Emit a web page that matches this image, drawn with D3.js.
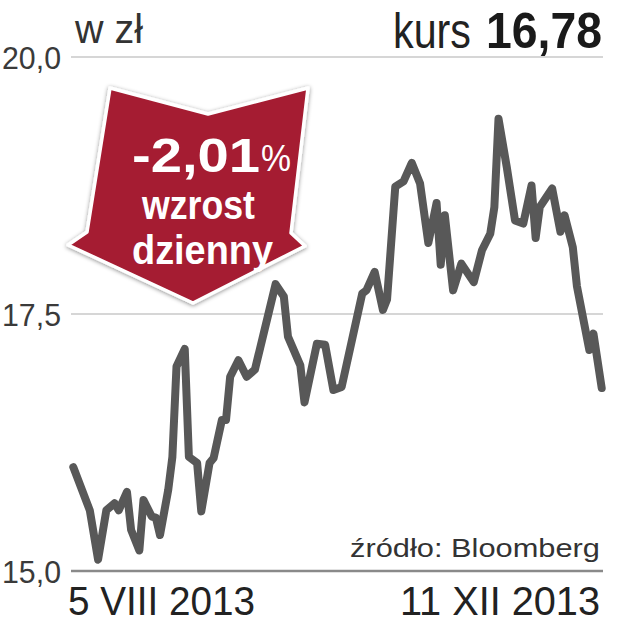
<!DOCTYPE html>
<html>
<head>
<meta charset="utf-8">
<script src="https://cdn.jsdelivr.net/npm/d3@7"></script>
<style>
  html, body { margin: 0; padding: 0; background: #fff; }
  svg { display: block; }
  text { font-family: "Liberation Sans", Arial, sans-serif; }
</style>
</head>
<body>
<svg id="chart" width="622" height="625"></svg>
<script>
// ---- data ----
const dates = [
  "2013-08-05","2013-08-09","2013-08-11","2013-08-13","2013-08-15","2013-08-16","2013-08-18","2013-08-19",
  "2013-08-21","2013-08-22","2013-08-24","2013-08-25","2013-08-26","2013-08-28","2013-08-29","2013-08-30",
  "2013-09-01","2013-09-02","2013-09-04","2013-09-05","2013-09-07","2013-09-08","2013-09-10","2013-09-11",
  "2013-09-12","2013-09-14","2013-09-16","2013-09-18","2013-09-23","2013-09-25","2013-09-26","2013-09-29",
  "2013-09-30","2013-10-03","2013-10-05","2013-10-07","2013-10-09","2013-10-14","2013-10-15","2013-10-17",
  "2013-10-19","2013-10-20","2013-10-22","2013-10-24","2013-10-26","2013-10-28","2013-10-30","2013-11-01",
  "2013-11-02","2013-11-03","2013-11-05","2013-11-07","2013-11-10","2013-11-12","2013-11-14","2013-11-15",
  "2013-11-16","2013-11-18","2013-11-20","2013-11-22","2013-11-24","2013-11-25","2013-11-26","2013-11-29",
  "2013-12-01","2013-12-02","2013-12-04","2013-12-05","2013-12-08","2013-12-09","2013-12-11"
];
const prices = [
  16.01,15.59,15.11,15.59,15.66,15.59,15.77,15.40,
  15.20,15.69,15.53,15.52,15.35,15.79,16.11,16.99,
  17.16,16.11,16.05,15.58,16.05,16.10,16.47,16.47,
  16.89,17.05,16.89,16.96,17.79,17.67,17.28,17.00,
  16.64,17.21,17.20,16.76,16.79,17.70,17.73,17.91,
  17.54,17.64,18.74,18.79,18.97,18.77,18.19,18.58,
  17.98,18.46,17.73,17.99,17.81,18.12,18.28,18.54,
  19.40,18.93,18.41,18.38,18.75,18.24,18.54,18.72,
  18.30,18.46,18.15,17.77,17.15,17.31,16.78
];
const yTicks = [15.0, 17.5, 20.0];
const yTickLabels = ["15,0", "17,5", "20,0"];
const xLabels = ["5 VIII 2013", "11 XII 2013"];
const unitLabel = "w zł";
const lastLabel = "kurs";
const lastValue = "16,78";
const changeValue = "-2,01";
const changeLines = ["wzrost", "dzienny"];
const sourceLabel = "źródło: Bloomberg";

// ---- drawing ----
const parse = d3.timeParse("%Y-%m-%d");
const data = dates.map((d, i) => ({ date: parse(d), value: prices[i] }));

const svg = d3.select("#chart");
const x = d3.scaleTime()
  .domain([parse("2013-08-05"), parse("2013-12-11")])
  .range([73.3, 601.7]);
const y = d3.scaleLinear().domain([15, 20]).range([571, 57]);

const defs = svg.append("defs");
const f = defs.append("filter").attr("id", "shadow")
  .attr("x", "-20%").attr("y", "-20%").attr("width", "140%").attr("height", "140%");
f.append("feDropShadow").attr("dx", 0).attr("dy", 1).attr("stdDeviation", 2.2)
  .attr("flood-color", "#000").attr("flood-opacity", 0.45);

// grid lines
svg.append("g").selectAll("line").data(yTicks).join("line")
  .attr("x1", 71).attr("x2", 603)
  .attr("y1", d => y(d)).attr("y2", d => y(d))
  .attr("stroke", d => d === 15 ? "#8a8a8a" : "#c8c8c8")
  .attr("stroke-width", d => d === 15 ? 2.5 : 1.5);

// y tick labels
svg.append("g").selectAll("text").data(yTicks).join("text")
  .attr("x", 2).attr("y", d => y(d) + 12)
  .attr("font-size", 31).attr("fill", "#3a3a3a")
  .attr("textLength", 59).attr("lengthAdjust", "spacingAndGlyphs")
  .text((d, i) => yTickLabels[i]);

// header
svg.append("text").attr("x", 75).attr("y", 43)
  .attr("font-size", 41).attr("fill", "#333")
  .attr("textLength", 68).attr("lengthAdjust", "spacingAndGlyphs")
  .text(unitLabel);
svg.append("text").attr("x", 393).attr("y", 48)
  .attr("font-size", 50).attr("fill", "#222")
  .attr("textLength", 78).attr("lengthAdjust", "spacingAndGlyphs")
  .text(lastLabel);
svg.append("text").attr("x", 486).attr("y", 48)
  .attr("font-size", 50).attr("font-weight", "bold").attr("fill", "#1a1a1a")
  .attr("textLength", 116).attr("lengthAdjust", "spacingAndGlyphs")
  .text(lastValue);

// arrow
const arrowPts = [[110,88],[208,114],[308,88],[291,233],[305,246],[193,303],[68,245],[87,232]];
svg.append("path")
  .attr("d", d3.line()(arrowPts) + "Z")
  .attr("fill", "#a51c32").attr("stroke", "#fff").attr("stroke-width", 3.5)
  .attr("stroke-linejoin", "round")
  .attr("filter", "url(#shadow)");

// arrow caption
const aText = svg.append("g").attr("fill", "#fff").attr("font-weight", "bold");
aText.append("text").attr("x", 132).attr("y", 172)
  .attr("font-size", 48)
  .attr("textLength", 128).attr("lengthAdjust", "spacingAndGlyphs")
  .text(changeValue);
aText.append("text").attr("x", 261).attr("y", 171)
  .attr("font-size", 36).attr("font-weight", "normal")
  .attr("textLength", 30).attr("lengthAdjust", "spacingAndGlyphs")
  .text("%");
aText.append("text").attr("x", 142).attr("y", 219)
  .attr("font-size", 40)
  .attr("textLength", 113).attr("lengthAdjust", "spacingAndGlyphs")
  .text(changeLines[0]);
aText.append("text").attr("x", 132).attr("y", 264)
  .attr("font-size", 40)
  .attr("textLength", 141).attr("lengthAdjust", "spacingAndGlyphs")
  .text(changeLines[1]);

// price line
svg.append("path").datum(data)
  .attr("d", d3.line().x(d => x(d.date)).y(d => y(d.value)))
  .attr("fill", "none").attr("stroke", "#585858").attr("stroke-width", 8)
  .attr("stroke-linejoin", "round").attr("stroke-linecap", "round");

// source
svg.append("text").attr("x", 350).attr("y", 557)
  .attr("font-size", 26).attr("fill", "#333")
  .attr("textLength", 250).attr("lengthAdjust", "spacingAndGlyphs")
  .text(sourceLabel);

// x labels
svg.append("text").attr("x", 68).attr("y", 615)
  .attr("font-size", 40).attr("fill", "#222")
  .attr("textLength", 187).attr("lengthAdjust", "spacingAndGlyphs")
  .text(xLabels[0]);
svg.append("text").attr("x", 400).attr("y", 615)
  .attr("font-size", 40).attr("fill", "#222")
  .attr("textLength", 200).attr("lengthAdjust", "spacingAndGlyphs")
  .text(xLabels[1]);
</script>
</body>
</html>
